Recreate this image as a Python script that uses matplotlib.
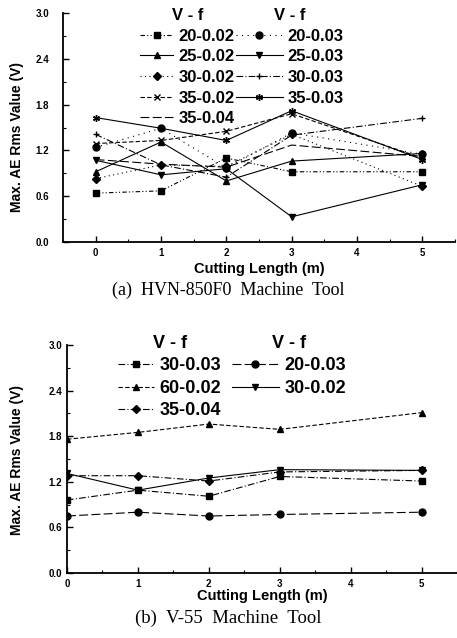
import matplotlib
matplotlib.use("Agg")
import matplotlib.pyplot as plt
from matplotlib.ticker import MultipleLocator

# ---------------- data ----------------
x_len = [0, 1, 2, 3, 5]

# (a) HVN-850F0
a_20_002 = [0.64, 0.67, 1.10, 0.92, 0.92]
a_25_002 = [0.92, 1.31, 0.80, 1.06, 1.16]
a_30_002 = [0.83, 1.01, 0.99, 1.41, 0.73]
a_35_002 = [1.29, 1.33, 1.45, 1.68, 1.10]
a_35_004 = [1.08, 1.02, 0.98, 1.27, 1.12]
a_20_003 = [1.24, 1.49, 0.97, 1.43, 1.15]
a_25_003 = [1.07, 0.88, 0.96, 0.33, 0.75]
a_30_003 = [1.41, 1.01, 0.85, 1.40, 1.62]
a_35_003 = [1.63, 1.49, 1.33, 1.72, 1.08]

# (b) V-55
b_30_003 = [0.96, 1.09, 1.01, 1.27, 1.21]
b_60_002 = [1.76, 1.85, 1.96, 1.89, 2.11]
b_35_004 = [1.28, 1.28, 1.21, 1.33, 1.35]
b_20_003 = [0.75, 0.80, 0.75, 0.77, 0.80]
b_30_002 = [1.31, 1.09, 1.25, 1.36, 1.35]

yticks = [0.0, 0.6, 1.2, 1.8, 2.4, 3.0]
ytick_labels = ["0.0", "0.6", "1.2", "1.8", "2.4", "3.0"]
xticks = [0, 1, 2, 3, 4, 5]

ylabel = "Max. AE Rms Value (V)"
xlabel = "Cutting Length (m)"
cap_a = "(a)  HVN-850F0  Machine  Tool"
cap_b = "(b)  V-55  Machine  Tool"

# ---------------- style ----------------
plt.rcParams['font.family'] = ['Liberation Sans', 'DejaVu Sans']
W, H = 457, 638
fig = plt.figure(figsize=(W/100, H/100), dpi=100)

ax1 = fig.add_axes([63/W, 1-242/H, 392/W, 229/H])
ax2 = fig.add_axes([67/W, 1-573/H, 390/W, 228/H])

K = 'black'
lw = 0.8
ms = 5
ast = (6, 2, 0)

dashdot = (0, (6, 2, 1, 2))
dashdot2 = (0, (4, 2, 1, 2, 1, 2))
longdash = (0, (8, 3))
dashed = (0, (4, 2))

sa = [
    (a_20_002, "20-0.02", 's', dashdot2),
    (a_25_002, "25-0.02", '^', '-'),
    (a_30_002, "30-0.02", 'D', (0, (1, 3))),
    (a_35_002, "35-0.02", 'x', dashed),
    (a_35_004, "35-0.04", None, longdash),
    (a_20_003, "20-0.03", 'o', (0, (1, 4))),
    (a_25_003, "25-0.03", 'v', '-'),
    (a_30_003, "30-0.03", '+', dashdot),
    (a_35_003, "35-0.03", ast, '-'),
]
handles_a = []
for vals, lab, mk, ls in sa:
    msz = ms - 1 if mk == 'D' else ms
    h, = ax1.plot(x_len, vals, color=K, lw=lw, ls=ls, marker=mk, ms=msz,
                  mew=1.0, label=lab)
    handles_a.append(h)

sb = [
    (b_30_003, "30-0.03", 's', dashdot),
    (b_60_002, "60-0.02", '^', dashed),
    (b_35_004, "35-0.04", 'D', dashdot),
    (b_20_003, "20-0.03", 'o', longdash),
    (b_30_002, "30-0.02", 'v', '-'),
]
handles_b = []
for vals, lab, mk, ls in sb:
    msz = ms - 1 if mk == 'D' else ms
    h, = ax2.plot(x_len, vals, color=K, lw=lw, ls=ls, marker=mk, ms=msz,
                  mew=1.0, label=lab)
    handles_b.append(h)

for ax, xl, cap, capy, ypad, xlp, cfs in [(ax1, (-0.5, 5.5), cap_a, 290, 10, 3, 13),
                                          (ax2, (0, 5.5), cap_b, 618, 3.5, 0.5, 13.5)]:
    ax.set_xlim(*xl)
    ax.set_ylim(0, 3.0)
    ax.spines['top'].set_visible(False)
    ax.spines['right'].set_visible(False)
    ax.spines['left'].set_linewidth(1.3)
    ax.spines['bottom'].set_linewidth(1.3)
    ax.set_yticks(yticks)
    ax.set_yticklabels(ytick_labels, fontsize=7, fontweight='bold')
    ax.set_xticks(xticks)
    ax.set_xticklabels([str(v) for v in xticks], fontsize=7, fontweight='bold')
    ax.yaxis.set_minor_locator(MultipleLocator(0.3))
    ax.xaxis.set_minor_locator(MultipleLocator(0.5))
    ax.tick_params(direction='in', which='major', length=4, width=1)
    ax.tick_params(direction='in', which='minor', length=2, width=0.8)
    ax.tick_params(axis='y', which='major', pad=ypad)
    ax.tick_params(axis='x', which='major', pad=4)
    ax.set_xlabel(xlabel, fontsize=10.5, fontweight='bold', labelpad=xlp)
    fig.text(0.5, 1 - capy/H, cap, ha='center', va='center', fontsize=cfs,
             family=['Liberation Serif', 'DejaVu Serif'])

fig.text(17/W, 1 - 137/H, ylabel, rotation=90, ha='center', va='center',
         fontsize=10, fontweight='bold')
fig.text(17/W, 1 - 460/H, ylabel, rotation=90, ha='center', va='center',
         fontsize=10, fontweight='bold')


def make_legend(ax, handles, left_px, top_px, ax_left, ax_bottom, ax_w, ax_h,
                fs, hl, ls):
    leg = ax.legend(handles=handles, loc='upper left',
                    bbox_to_anchor=((left_px-ax_left)/ax_w, (ax_bottom-top_px)/ax_h),
                    frameon=False, fontsize=fs, handlelength=hl, handletextpad=0.3,
                    labelspacing=ls, borderaxespad=0, borderpad=0,
                    title="V - f",
                    title_fontproperties={'size': fs, 'weight': 'bold'})
    for t in leg.get_texts():
        t.set_fontweight('bold')
    return leg


l1 = make_legend(ax1, handles_a[:5], 140, 8, 63, 242, 392, 229, 12, 2.0, 0.34)
ax1.add_artist(l1)
make_legend(ax1, handles_a[5:], 236, 8, 63, 242, 392, 229, 12, 2.8, 0.34)

m1 = make_legend(ax2, handles_b[:3], 118, 335, 67, 573, 390, 228, 13, 2.0, 0.3)
ax2.add_artist(m1)
make_legend(ax2, handles_b[3:], 232, 335, 67, 573, 390, 228, 13, 2.6, 0.3)

fig.savefig("out.png", dpi=100)
